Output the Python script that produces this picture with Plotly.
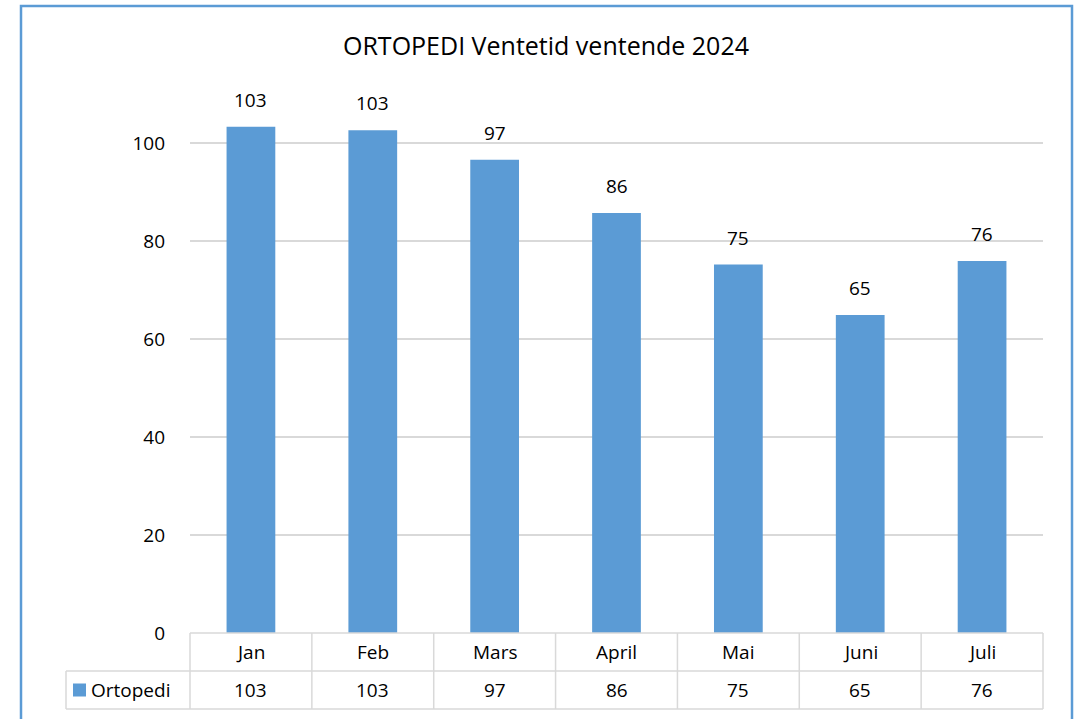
import plotly.graph_objects as go

title = "ORTOPEDI Ventetid ventende 2024"
series_name = "Ortopedi"
months = ["Jan", "Feb", "Mars", "April", "Mai", "Juni", "Juli"]
values = [103.3, 102.6, 96.6, 85.7, 75.2, 64.9, 75.9]
y_ticks = [0, 20, 40, 60, 80, 100]

BLUE = "#5B9BD5"
GRID = "#D9D9D9"
FONT = "Open Sans"
FS = 19

W, H = 1074, 719
L, R, T, B = 190, 31, 94, 86
pw, ph = W - L - R, H - T - B

def px_x(px):
    return (px - L) / pw

def px_y(py):
    return (H - B - py) / ph

fig = go.Figure()
fig.add_trace(go.Bar(
    x=months, y=values, marker_color=BLUE, marker_line_width=0,
    name=series_name, showlegend=False, hoverinfo="x+y",
))

shapes = []
annotations = []
tfont = dict(family=FONT, size=FS, color="#000")

# data labels above bars
for m, v in zip(months, values):
    annotations.append(dict(
        x=m, y=v, xref="x", yref="y", text=f"{v:.0f}", showarrow=False,
        xanchor="center", yanchor="bottom", yshift=12, font=tfont,
    ))

# data table
n = len(months)
row_top = 0.0
row_mid = px_y(671)
row_bot = px_y(709)
legend_left = px_x(66)
line = dict(color=GRID, width=1.5)
shapes.append(dict(type="line", xref="paper", yref="paper", x0=0, x1=1, y0=row_top, y1=row_top, line=line))
shapes.append(dict(type="line", xref="paper", yref="paper", x0=legend_left, x1=1, y0=row_mid, y1=row_mid, line=line))
shapes.append(dict(type="line", xref="paper", yref="paper", x0=legend_left, x1=1, y0=row_bot, y1=row_bot, line=line))
shapes.append(dict(type="line", xref="paper", yref="paper", x0=legend_left, x1=legend_left, y0=row_mid, y1=row_bot, line=line))
for i in range(n + 1):
    xp = i / n
    shapes.append(dict(type="line", xref="paper", yref="paper", x0=xp, x1=xp, y0=row_top, y1=row_bot, line=line))
for i, (m, v) in enumerate(zip(months, values)):
    xc = (i + 0.5) / n
    annotations.append(dict(x=xc, y=(row_top + row_mid) / 2, xref="paper", yref="paper", text=m,
                            xanchor="center", yanchor="middle", showarrow=False, font=tfont))
    annotations.append(dict(x=xc, y=(row_mid + row_bot) / 2, xref="paper", yref="paper", text=f"{v:.0f}",
                            xanchor="center", yanchor="middle", showarrow=False, font=tfont))
# legend key in table
sq = 13
shapes.append(dict(type="rect", xref="paper", yref="paper",
                   x0=px_x(73), x1=px_x(73 + sq), y0=px_y(690 + sq / 2), y1=px_y(690 - sq / 2),
                   fillcolor=BLUE, line=dict(width=0)))
annotations.append(dict(x=px_x(89), y=(row_mid + row_bot) / 2, xref="paper", yref="paper", text=series_name,
                        xanchor="left", yanchor="middle", showarrow=False, font=tfont))

# outer border
shapes.append(dict(type="rect", xref="paper", yref="paper",
                   x0=px_x(21), x1=px_x(1072), y0=px_y(730), y1=px_y(6),
                   line=dict(color=BLUE, width=2.5), fillcolor="rgba(0,0,0,0)", layer="above"))

fig.update_layout(
    width=W, height=H,
    margin=dict(l=L, r=R, t=T, b=B),
    paper_bgcolor="white", plot_bgcolor="white",
    bargap=0.6,
    title=dict(text=title, x=546 / W, xanchor="center", y=1 - 46 / H, yanchor="middle",
               font=dict(family=FONT, size=25, color="#000")),
    xaxis=dict(showticklabels=False, showgrid=False, zeroline=False, showline=False, ticks=""),
    yaxis=dict(range=[0, 110], tickvals=y_ticks, showgrid=True, gridcolor=GRID, gridwidth=1.5,
               zeroline=False, showline=False, ticks="", ticklabelstandoff=24,
               tickfont=tfont),
    shapes=shapes, annotations=annotations,
    font=dict(family=FONT),
)

fig.write_html("out.html", config={"displayModeBar": False},
               post_script="document.body.style.margin='0';document.body.style.overflow='hidden';")
